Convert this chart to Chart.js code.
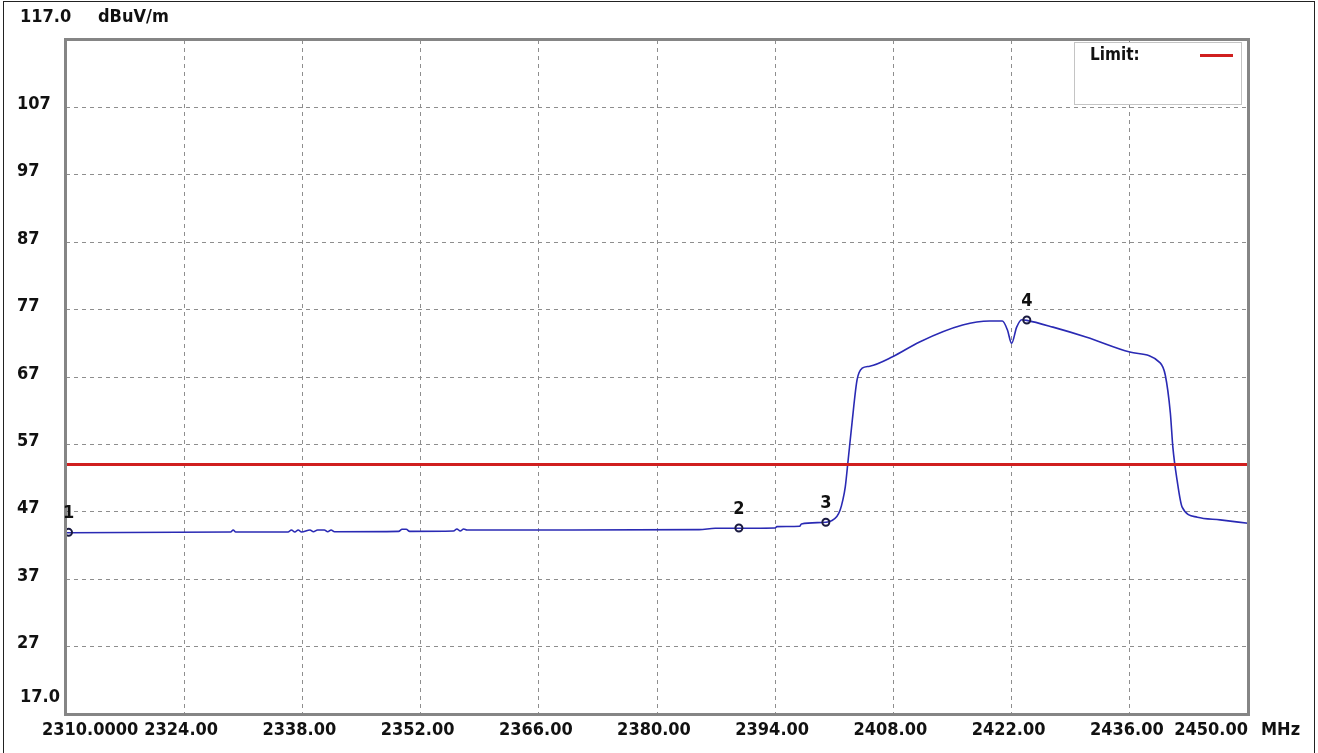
<!DOCTYPE html>
<html>
<head>
<meta charset="utf-8">
<script src="https://cdn.jsdelivr.net/npm/chart.js@4"></script>
<style>
html,body{margin:0;padding:0;background:#fff;}
#wrap{width:1318px;height:753px;position:relative;}
</style>
</head>
<body>
<div id="wrap"><canvas id="c" width="1318" height="753"></canvas></div>
<script>
// ---- data ----
const xTickValues = [2310, 2324, 2338, 2352, 2366, 2380, 2394, 2408, 2422, 2436, 2450];
const xTickLabels = ['2310.0000', '2324.00', '2338.00', '2352.00', '2366.00', '2380.00', '2394.00', '2408.00', '2422.00', '2436.00', '2450.00'];
const yTickValues = [117, 107, 97, 87, 77, 67, 57, 47, 37, 27, 17];
const yTickLabels = ['117.0', '107', '97', '87', '77', '67', '57', '47', '37', '27', '17.0'];
const yUnit = 'dBuV/m';
const xUnit = 'MHz';

const traceFreq = [2310, 2329.5, 2329.8, 2330.1, 2336.3, 2336.7, 2337.1, 2337.5, 2337.9, 2338.9, 2339.3, 2339.8, 2340.6, 2341.0, 2341.4, 2341.8,
  2349.4, 2349.8, 2350.3, 2350.7, 2355.9, 2356.3, 2356.7, 2357.1, 2357.5, 2370, 2385, 2386.9, 2394, 2394.2, 2396.9, 2397.1,
  2400, 2401.3, 2401.7, 2402.0, 2402.3, 2402.6, 2403.1, 2403.7, 2404.3, 2405.2, 2407.9, 2411.1, 2416.2, 2419.4, 2420.9,
  2421.5, 2422.0, 2422.6, 2423.2, 2423.8, 2426.9, 2430.9, 2436.0, 2439.6, 2440.2, 2440.8, 2441.1, 2441.6, 2442.2, 2444.0, 2446.7, 2450];
const traceLevel = [43.9, 44.0, 44.3, 44.0, 44.0, 44.3, 44.0, 44.3, 44.0, 44.3, 44.05, 44.3, 44.3, 44.05, 44.3, 44.05,
  44.1, 44.4, 44.4, 44.1, 44.15, 44.45, 44.15, 44.45, 44.3, 44.3, 44.35, 44.55, 44.6, 44.8, 44.85, 45.2,
  45.45, 46.3, 47.3, 48.7, 50.7, 54.2, 60.2, 66.6, 68.3, 68.6, 70.0, 72.2, 74.7, 75.3, 75.3,
  74.0, 72.0, 74.4, 75.5, 75.4, 74.4, 72.9, 70.7, 69.1, 67.3, 61.7, 56.6, 51.7, 47.7, 46.2, 45.8, 45.3];

const limitLabel = 'Limit:';
const limitFreq = [2310, 2450];
const limitLevel = [54, 54];

const markerLabels = ['1', '2', '3', '4'];
const markerFreq = [2310.3, 2389.7, 2400.0, 2423.8];
const markerLevel = [43.95, 44.6, 45.45, 75.45];

// ---- chart ----
const FONT = 'bold 18px "DejaVu Sans Condensed", "DejaVu Sans"';
const toXY = (xs, ys) => xs.map((x, i) => ({x: x, y: ys[i]}));

const overlay = {
  id: 'overlay',
  afterDraw(chart) {
    const ctx = chart.ctx;
    const a = chart.chartArea;
    const xs = chart.scales.x, ys = chart.scales.y;
    ctx.save();
    // plot frame
    ctx.strokeStyle = '#858585';
    ctx.lineWidth = 3;
    ctx.strokeRect(a.left - 0.5, a.top - 0.5, a.right - a.left + 1, a.bottom - a.top + 1);
    // outer frame
    ctx.strokeStyle = '#222';
    ctx.lineWidth = 1;
    ctx.strokeRect(3.5, 1.5, 1311, 800);

    ctx.fillStyle = '#111';
    ctx.font = FONT;
    ctx.textBaseline = 'middle';
    // y labels
    ctx.textAlign = 'left';
    yTickValues.forEach((v, i) => {
      let y = ys.getPixelForValue(v) - 3;
      let x = 17;
      if (i === 0) { y = 17; x = 20; }
      if (i === yTickValues.length - 1) { y = 697; x = 20; }
      ctx.fillText(yTickLabels[i], x, y);
    });
    ctx.fillText(yUnit, 98, 17);
    // x labels
    xTickValues.forEach((v, i) => {
      const px = xs.getPixelForValue(v);
      if (i === 0) { ctx.textAlign = 'left'; ctx.fillText(xTickLabels[i], 42, 730); }
      else if (i === xTickValues.length - 1) { ctx.textAlign = 'right'; ctx.fillText(xTickLabels[i], px, 730); }
      else { ctx.textAlign = 'center'; ctx.fillText(xTickLabels[i], px - 3, 730); }
    });
    ctx.textAlign = 'left';
    ctx.fillText(xUnit, 1261, 730);

    // marker numbers
    const meta = chart.getDatasetMeta(2);
    ctx.textAlign = 'center';
    meta.data.forEach((pt, i) => {
      ctx.fillText(markerLabels[i], pt.x, pt.y - 19);
    });

    // legend box
    ctx.fillStyle = '#fff';
    ctx.fillRect(1074, 42, 167, 62);
    ctx.strokeStyle = '#c4c4c4';
    ctx.lineWidth = 1;
    ctx.strokeRect(1074.5, 42.5, 167, 62);
    ctx.fillStyle = '#111';
    ctx.textAlign = 'left';
    ctx.font = 'bold 17px "DejaVu Sans Condensed", "DejaVu Sans"';
    ctx.fillText(chart.data.datasets[1].label, 1090, 56);
    ctx.strokeStyle = chart.data.datasets[1].borderColor;
    ctx.lineWidth = 3;
    ctx.beginPath();
    ctx.moveTo(1200, 55.5);
    ctx.lineTo(1233, 55.5);
    ctx.stroke();
    ctx.restore();
  }
};

const gridColor = (c) => {
  const v = c.tick && c.tick.value;
  return (v === 17 || v === 117 || v === 2310 || v === 2450) ? 'rgba(0,0,0,0)' : '#8e8e8e';
};

new Chart(document.getElementById('c'), {
  type: 'line',
  data: {
    datasets: [
      {
        label: 'Trace',
        data: toXY(traceFreq, traceLevel),
        borderColor: '#2a2ab4',
        borderWidth: 1.6,
        pointRadius: 0,
        cubicInterpolationMode: 'monotone',
        order: 2
      },
      {
        label: limitLabel,
        data: toXY(limitFreq, limitLevel),
        borderColor: '#d01f1f',
        borderWidth: 3,
        pointRadius: 0,
        order: 1
      },
      {
        label: 'Markers',
        data: toXY(markerFreq, markerLevel),
        showLine: false,
        pointStyle: 'circle',
        pointRadius: 3.5,
        borderWidth: 2,
        pointBorderColor: '#1a1a40',
        pointBackgroundColor: 'rgba(255,255,255,0)',
        order: 0
      }
    ]
  },
  options: {
    responsive: false,
    animation: false,
    devicePixelRatio: 1,
    layout: { padding: { left: 66, top: 40, right: 70, bottom: 39 } },
    plugins: { legend: { display: false }, tooltip: { enabled: false } },
    scales: {
      x: {
        type: 'linear', min: 2310, max: 2450,
        afterBuildTicks: (s) => { s.ticks = xTickValues.map(v => ({value: v})); },
        afterFit: (s) => { s.height = 0; },
        ticks: { display: false },
        grid: { color: gridColor, lineWidth: 1, drawTicks: false },
        border: { display: false, dash: [4, 4] }
      },
      y: {
        type: 'linear', min: 17, max: 117,
        afterBuildTicks: (s) => { s.ticks = yTickValues.map(v => ({value: v})); },
        afterFit: (s) => { s.width = 0; },
        ticks: { display: false },
        grid: { color: gridColor, lineWidth: 1, drawTicks: false },
        border: { display: false, dash: [4, 4] }
      }
    }
  },
  plugins: [overlay]
});
</script>
</body>
</html>
